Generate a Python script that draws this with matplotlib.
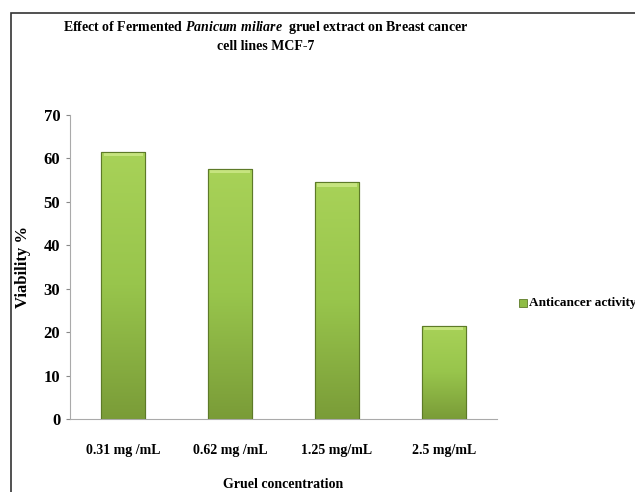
import numpy as np
import matplotlib.pyplot as plt
from matplotlib.patches import Rectangle
from matplotlib.colors import LinearSegmentedColormap

categories = ['0.31 mg /mL', '0.62 mg /mL', '1.25 mg/mL', '2.5 mg/mL']
viability = [61.6, 57.6, 54.5, 21.5]
series_name = 'Anticancer activity'
yticks = [0, 10, 20, 30, 40, 50, 60, 70]

plt.rcParams['font.family'] = ['Liberation Serif', 'DejaVu Serif']
plt.rcParams['font.weight'] = 'bold'
plt.rcParams['mathtext.fontset'] = 'custom'
plt.rcParams['mathtext.rm'] = 'Liberation Serif:bold'
plt.rcParams['mathtext.it'] = 'Liberation Serif:italic:bold'

W, H = 635, 492
fig = plt.figure(figsize=(W / 100, H / 100), dpi=100)
ax = fig.add_axes([70 / W, 1 - 419.3 / H, 427 / W, 304.3 / H])

x = np.arange(len(categories))
bars = ax.bar(x, viability, width=0.41, color='#8fbc45', edgecolor='#5d7a28',
              linewidth=0.8, label=series_name, zorder=2)

# vertical gradient inside each bar
grad = np.linspace(0, 1, 256).reshape(-1, 1)
cmap = LinearSegmentedColormap.from_list('g', ['#7a9c38', '#98c54c', '#a8d258'])
for b in bars:
    x0, y0 = b.get_x(), b.get_y()
    im = ax.imshow(grad, cmap=cmap, aspect='auto', origin='lower',
                   extent=[x0, x0 + b.get_width(), y0, y0 + b.get_height()], zorder=2.5)
    im.set_clip_path(b)
    # bevel highlight at the top
    ax.add_patch(Rectangle((x0 + 0.02, b.get_height() - 1.0), b.get_width() - 0.04, 0.8,
                           color='#c6e47f', lw=0, zorder=3))
    ax.add_patch(Rectangle((x0, 0), b.get_width(), b.get_height(), fill=False,
                           edgecolor='#5d7a28', lw=0.8, zorder=4))

ax.set_xlim(-0.5, len(categories) - 0.5)
ax.set_ylim(0, 70)
ax.set_yticks(yticks)
ax.set_xticks(x)
ax.set_xticklabels(categories, fontsize=10)
ax.tick_params(axis='x', length=0, pad=18)
ax.tick_params(axis='y', length=3, width=0.8, color='#888888', labelsize=12, pad=4)
for lab in ax.get_yticklabels() + ax.get_xticklabels():
    lab.set_fontweight('bold')

for s in ['top', 'right']:
    ax.spines[s].set_visible(False)
ax.spines['left'].set_color('#aaaaaa')
ax.spines['bottom'].set_color('#aaaaaa')

ax.set_ylabel('Viability %', fontsize=12, fontweight='bold', labelpad=9)
ax.set_xlabel('Gruel concentration', fontsize=10, fontweight='bold', labelpad=15)

fig.text(266 / W, 1 - 27 / H,
         r'Effect of Fermented $\it{Panicum\ miliare}$  gruel extract on Breast cancer',
         ha='center', va='center', fontsize=10, fontweight='bold')
fig.text(266 / W, 1 - 46 / H, 'cell lines MCF-7', ha='center', va='center',
         fontsize=10, fontweight='bold')

# legend at the right edge
fig.patches.append(Rectangle((519 / W, 1 - 307 / H), 8 / W, 8 / H, transform=fig.transFigure,
                             facecolor='#8fbc45', edgecolor='#5d7a28', lw=0.6))
fig.text(529 / W, 1 - 303 / H, series_name, ha='left', va='center', fontsize=9.5,
         fontweight='bold')

# outer chart frame
fig.patches.append(Rectangle((11 / W, -0.1), 1.2, 1 - 13 / H + 0.1, transform=fig.transFigure,
                             fill=False, edgecolor='#333333', lw=1.2))

fig.savefig('out.png', dpi=100)
